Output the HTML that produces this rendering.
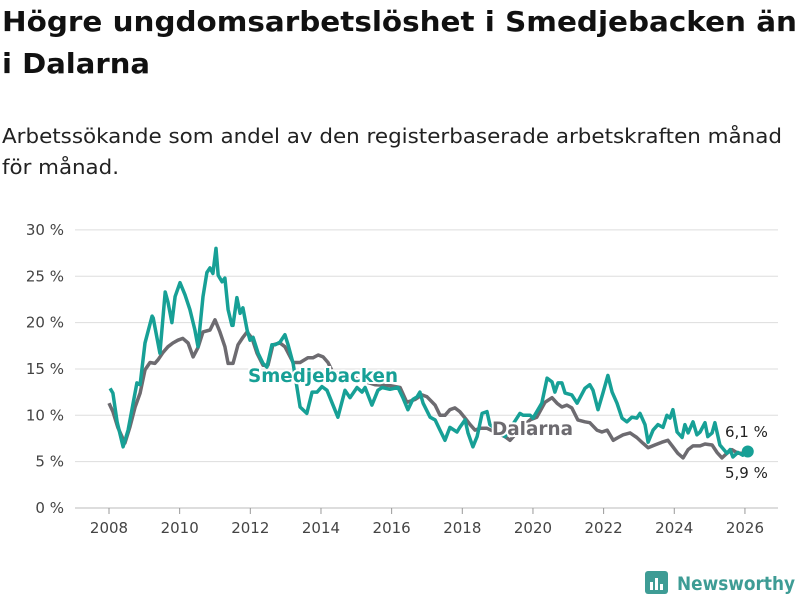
<!DOCTYPE html>
<html><head><meta charset="utf-8"><style>
body{margin:0;background:#fff;width:800px;height:600px;overflow:hidden;font-family:"DejaVu Sans","Liberation Sans",sans-serif}
svg{position:absolute;left:0;top:0}
</style></head><body>
<svg id="c" width="800" height="600">
<text x="2" y="31" font-size="28" font-weight="bold" fill="#111" textLength="795" lengthAdjust="spacingAndGlyphs">Högre ungdomsarbetslöshet i Smedjebacken än</text>
<text x="2" y="73" font-size="28" font-weight="bold" fill="#111" textLength="148" lengthAdjust="spacingAndGlyphs">i Dalarna</text>
<text x="2" y="143" font-size="20" fill="#222" textLength="780" lengthAdjust="spacingAndGlyphs">Arbetssökande som andel av den registerbaserade arbetskraften månad</text>
<text x="2" y="174" font-size="20" fill="#222" textLength="117" lengthAdjust="spacingAndGlyphs">för månad.</text>
<g id="grid"></g><g id="xt"></g><g id="lines"></g>
<g>
<rect x="645" y="571" width="23" height="23" rx="3" fill="#3e9c95"/>
<rect x="650" y="582" width="3" height="8" fill="#fff"/><rect x="655" y="578" width="3" height="12" fill="#fff"/><rect x="660" y="584" width="3" height="6" fill="#fff"/>
<text x="677" y="590" font-size="19" font-weight="bold" fill="#3e9c95" textLength="118" lengthAdjust="spacingAndGlyphs">Newsworthy</text>
</g>
</svg>
<script>
const yTicks=[0,5,10,15,20,25,30];
const xTicks=[2008,2010,2012,2014,2016,2018,2020,2022,2024,2026];
const smedDates=[2008.03,2008.11,2008.23,2008.40,2008.54,2008.79,2008.88,2009.02,2009.22,2009.25,2009.44,2009.59,2009.67,2009.78,2009.87,2010.01,2010.15,2010.29,2010.43,2010.52,2010.66,2010.77,2010.86,2010.94,2011.03,2011.09,2011.20,2011.28,2011.37,2011.48,2011.51,2011.62,2011.71,2011.79,2011.91,2011.99,2012.08,2012.22,2012.36,2012.47,2012.61,2012.70,2012.84,2012.98,2013.07,2013.21,2013.41,2013.60,2013.75,2013.89,2014.03,2014.17,2014.48,2014.68,2014.82,2015.02,2015.16,2015.25,2015.44,2015.61,2015.73,2015.95,2016.18,2016.32,2016.46,2016.60,2016.72,2016.80,2016.89,2017.09,2017.23,2017.37,2017.51,2017.65,2017.85,2017.93,2018.08,2018.16,2018.30,2018.42,2018.56,2018.70,2018.78,2019.21,2019.63,2019.72,2019.92,2020.00,2020.25,2020.40,2020.54,2020.62,2020.71,2020.82,2020.91,2021.10,2021.25,2021.47,2021.61,2021.70,2021.84,2021.98,2022.12,2022.24,2022.38,2022.52,2022.66,2022.80,2022.94,2023.03,2023.17,2023.26,2023.40,2023.54,2023.68,2023.79,2023.88,2023.96,2024.08,2024.22,2024.30,2024.39,2024.53,2024.64,2024.73,2024.87,2024.95,2025.07,2025.15,2025.29,2025.49,2025.58,2025.66,2025.80,2025.94,2026.08];
const smedVals=[12.9,12.4,9.3,6.6,8.4,13.5,13.3,17.8,20.7,20.5,16.7,23.3,22.2,20,22.8,24.3,23,21.4,19.2,17.4,22.8,25.4,25.9,25.3,28,25.1,24.4,24.8,21.4,19.7,19.7,22.7,21,21.6,19.2,18.1,18.4,16.7,15.6,15.2,17.6,17.6,17.9,18.7,17.6,15.6,10.9,10.2,12.5,12.5,13.1,12.7,9.8,12.7,11.9,13,12.5,13,11.1,12.7,13,12.8,13,11.9,10.6,11.7,12,12.5,11.3,9.8,9.5,8.4,7.3,8.7,8.2,8.7,9.5,8.1,6.6,7.7,10.2,10.4,9,7.7,10.2,10,10,9.7,11.3,14,13.6,12.5,13.5,13.5,12.4,12.2,11.3,12.9,13.3,12.7,10.6,12.4,14.3,12.5,11.3,9.7,9.3,9.8,9.7,10.2,9,7.1,8.4,9,8.7,10,9.7,10.6,8.2,7.6,9,8.1,9.3,7.9,8.2,9.2,7.7,8.1,9.2,6.8,5.9,6.3,5.5,6,5.7,6.1];
const dalDates=[2008.00,2008.11,2008.25,2008.45,2008.59,2008.74,2008.88,2009.02,2009.16,2009.30,2009.39,2009.53,2009.67,2009.81,2009.95,2010.09,2010.24,2010.38,2010.52,2010.66,2010.86,2011.00,2011.14,2011.28,2011.37,2011.51,2011.65,2011.79,2011.91,2012.05,2012.19,2012.36,2012.50,2012.64,2012.84,2012.98,2013.21,2013.41,2013.63,2013.77,2013.92,2014.06,2014.20,2014.34,2014.68,2015.10,2015.53,2015.95,2016.24,2016.43,2016.66,2016.86,2017.00,2017.23,2017.37,2017.51,2017.65,2017.79,2017.93,2018.08,2018.22,2018.36,2018.50,2018.70,2019.21,2019.35,2019.63,2019.92,2020.11,2020.34,2020.54,2020.68,2020.82,2020.96,2021.10,2021.27,2021.47,2021.61,2021.81,2021.95,2022.10,2022.27,2022.41,2022.55,2022.75,2022.94,2023.11,2023.26,2023.45,2023.65,2023.82,2023.96,2024.10,2024.25,2024.39,2024.53,2024.73,2024.87,2025.07,2025.21,2025.35,2025.49,2025.63,2025.80,2026.00];
const dalVals=[11.3,10.4,8.7,7,8.7,10.9,12.4,14.9,15.7,15.6,16,16.8,17.4,17.8,18.1,18.3,17.8,16.3,17.3,19,19.2,20.3,19,17.4,15.6,15.6,17.6,18.4,19,18.3,16.7,15.4,15.4,17.6,17.8,17.4,15.7,15.7,16.2,16.2,16.5,16.3,15.7,14.6,14.5,13.8,13.3,13.2,13,11.4,11.7,12.2,12,11.1,10,10,10.6,10.8,10.4,9.7,9,8.4,8.6,8.6,7.7,7.3,8.5,9.5,9.8,11.4,11.9,11.3,10.9,11.1,10.8,9.5,9.3,9.2,8.4,8.2,8.4,7.3,7.6,7.9,8.1,7.6,7,6.5,6.8,7.1,7.3,6.6,5.9,5.4,6.3,6.7,6.7,6.9,6.8,6,5.4,5.9,6.3,5.9,5.9];
const NS='http://www.w3.org/2000/svg';
const X=v=>109+(v-2008)*35.33, Y=v=>508-v*9.27;
function mk(t,a,p){const e=document.createElementNS(NS,t);for(const k in a)e.setAttribute(k,a[k]);p.appendChild(e);return e;}
const grid=document.getElementById('grid'),xt=document.getElementById('xt'),lines=document.getElementById('lines');
yTicks.forEach(v=>{
 const l=mk('line',{x1:75,x2:778,y1:Y(v),y2:Y(v),stroke:v===0?'#bbb':'#ddd','stroke-width':1},grid);
 
 
 const t=mk('text',{x:64,y:Y(v)+5,'font-size':15,fill:'#444','text-anchor':'end'},grid);
 t.textContent=v+' %';
 
 
});
xTicks.forEach(v=>{
 mk('line',{x1:X(v),x2:X(v),y1:508,y2:514,stroke:'#999'},xt);
 const t=mk('text',{x:X(v),y:533,'font-size':15,fill:'#444','text-anchor':'middle'},xt);
 t.textContent=v;
 
 
});
function path(d,v){const m=Math.min(d.length,v.length);let s='';for(let i=0;i<m;i++)s+=(i?'L':'M')+X(d[i]).toFixed(1)+','+Y(v[i]).toFixed(1);return s;}
const pd=mk('path',{d:path(dalDates,dalVals),fill:'none',stroke:'#6d6b70','stroke-width':3.5,'stroke-linejoin':'round'},lines);


const ps=mk('path',{d:path(smedDates,smedVals),fill:'none',stroke:'#17a096','stroke-width':3.5,'stroke-linejoin':'round'},lines);


const n=Math.min(smedDates.length,smedVals.length)-1;
const dot=mk('circle',{cx:X(smedDates[n]),cy:Y(smedVals[n]),r:6,fill:'#17a096'},lines);


function lab(txt,x,y,col,name,sz,bold,w){
 const a={x:x,y:y,'font-size':sz,fill:col,'font-weight':bold?'bold':'normal',stroke:'#fff','stroke-width':bold?4:0,'paint-order':'stroke'};
 if(w){a.textLength=w;a.lengthAdjust='spacingAndGlyphs';}
 const t=mk('text',a,lines);
 t.textContent=txt;
 
 
}
lab('Smedjebacken',248,382,'#17a096','label-smedjebacken',19,true,150);
lab('Dalarna',492,435,'#6d6b70','label-dalarna',19,true,81);
lab('6,1 %',725,437,'#222','end-value-smedjebacken',15,false);
lab('5,9 %',725,478,'#222','end-value-dalarna',15,false);
</script>
</body></html>
